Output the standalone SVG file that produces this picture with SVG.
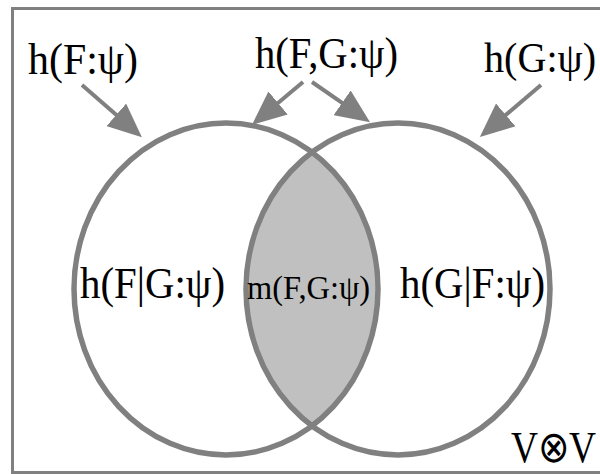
<svg xmlns="http://www.w3.org/2000/svg" width="600" height="474" viewBox="0 0 600 474">
<defs>
<style>
.lbl{font-family:"Liberation Serif","Times New Roman",serif;font-size:44px;fill:#000}
.sm{font-size:34px}
.ring{fill:none;stroke:#808080;stroke-width:5.5}
.arr{stroke:#808080;stroke-width:4;fill:none;marker-end:url(#ah)}
</style>
<marker id="ah" markerUnits="userSpaceOnUse" markerWidth="34" markerHeight="30" refX="4" refY="15" orient="auto" viewBox="0 0 34 30">
<path d="M0,0 L34,15 L0,30 z" fill="#808080"/>
</marker>
</defs>
<rect width="600" height="474" fill="#fff"/>
<rect id="frame" x="12.5" y="8.5" width="600" height="464" fill="#fff" stroke="#808080" stroke-width="3"/>
<g id="lens">
<path d="M312,152.1 A152,166 0 0,1 312,425.9 A152,166 0 0,1 312,152.1 z" fill="#c0c0c0"/>
</g>
<g id="setF"><ellipse class="ring" cx="226" cy="289" rx="152" ry="166"/></g>
<g id="setG"><ellipse class="ring" cx="398" cy="289" rx="152" ry="166"/></g>
<g id="connectors">
<line class="arr" x1="82" y1="85" x2="119.3" y2="117.5"/>
<line class="arr" x1="303" y1="82" x2="275" y2="105.5"/>
<line class="arr" x1="312" y1="82" x2="345.4" y2="105.1"/>
<line class="arr" x1="541" y1="85" x2="502.7" y2="117.5"/>
</g>
<g id="hF"><text class="lbl" x="28" y="74" textLength="110" lengthAdjust="spacingAndGlyphs">h(F:ψ)</text></g>
<g id="hFG"><text class="lbl" x="255" y="68" textLength="143" lengthAdjust="spacingAndGlyphs">h(F,G:ψ)</text></g>
<g id="hG" transform="translate(484,72) scale(1,1.1)"><text class="lbl" x="0" y="0" style="font-size:39px" textLength="112" lengthAdjust="spacingAndGlyphs">h(G:ψ)</text></g>
<g id="hFgG"><text class="lbl" x="80" y="298" textLength="145" lengthAdjust="spacingAndGlyphs">h(F|G:ψ)</text></g>
<g id="mFG"><text class="lbl sm" x="247" y="299" textLength="123" lengthAdjust="spacingAndGlyphs">m(F,G:ψ)</text></g>
<g id="hGgF"><text class="lbl" x="400" y="298" textLength="145" lengthAdjust="spacingAndGlyphs">h(G|F:ψ)</text></g>
<g id="VV" transform="translate(511,462) scale(1,1.15)"><text class="lbl" x="0" y="0" style="font-size:38px" textLength="85" lengthAdjust="spacingAndGlyphs">V⊗V</text></g>
</svg>
